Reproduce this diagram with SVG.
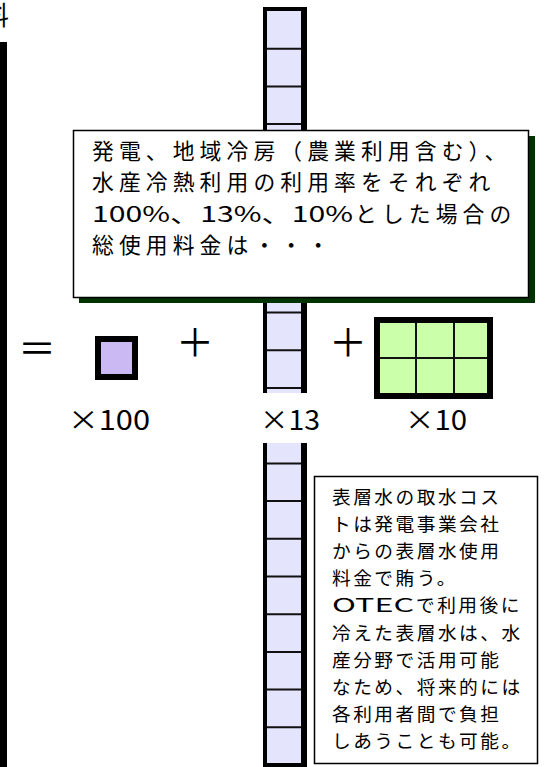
<svg xmlns="http://www.w3.org/2000/svg" width="548" height="767" viewBox="0 0 548 767">
<style>
text { font-family: "Noto Sans CJK JP", "Noto Sans", sans-serif; fill: #000; }
.big { font-size: 21.8px; letter-spacing: 5.1px; }
.note { font-size: 18.7px; letter-spacing: 2.5px; }
.lbl { font-size: 27px; }
.op { font-size: 38px; text-anchor: middle; }
.tight { letter-spacing: 0; }
.cell { stroke: #111; stroke-width: 2; }
.thick { stroke: #000; }
</style>
<rect width="548" height="767" fill="#fff"/>

<g id="left-fragment">
  <text x="-17" y="25" style="font-size:26px">料</text>
  <rect x="0" y="42" width="7" height="725" fill="#000"/>
</g>

<g id="column">
  <rect x="267" y="9" width="35" height="384" fill="#E4E4FC"/>
  <rect x="267" y="443" width="35" height="324" fill="#E4E4FC"/>
  <line x1="263" y1="9" x2="307" y2="9" class="thick" stroke-width="4"/>
  <line x1="265" y1="7" x2="265" y2="393" class="thick" stroke-width="4"/>
  <line x1="304" y1="7" x2="304" y2="393" class="thick" stroke-width="6"/>
  <line x1="265" y1="443" x2="265" y2="767" class="thick" stroke-width="4"/>
  <line x1="304" y1="443" x2="304" y2="767" class="thick" stroke-width="6"/>
  <line x1="263" y1="765" x2="307" y2="765" class="thick" stroke-width="4"/>
  <g class="cell">
    <line x1="267" y1="48.7" x2="301" y2="48.7"/>
    <line x1="267" y1="86.4" x2="301" y2="86.4"/>
    <line x1="267" y1="124.1" x2="301" y2="124.1"/>
    <line x1="267" y1="161.8" x2="301" y2="161.8"/>
    <line x1="267" y1="199.5" x2="301" y2="199.5"/>
    <line x1="267" y1="237.2" x2="301" y2="237.2"/>
    <line x1="267" y1="274.9" x2="301" y2="274.9"/>
    <line x1="267" y1="312.6" x2="301" y2="312.6"/>
    <line x1="267" y1="350.3" x2="301" y2="350.3"/>
    <line x1="267" y1="388" x2="301" y2="388"/>
    <line x1="267" y1="463.4" x2="301" y2="463.4"/>
    <line x1="267" y1="501.1" x2="301" y2="501.1"/>
    <line x1="267" y1="538.8" x2="301" y2="538.8"/>
    <line x1="267" y1="576.5" x2="301" y2="576.5"/>
    <line x1="267" y1="614.2" x2="301" y2="614.2"/>
    <line x1="267" y1="651.9" x2="301" y2="651.9"/>
    <line x1="267" y1="689.6" x2="301" y2="689.6"/>
    <line x1="267" y1="727.3" x2="301" y2="727.3"/>
  </g>
</g>

<g id="callout">
  <rect x="79" y="136" width="456" height="167" fill="#003300"/>
  <rect x="73.5" y="130.5" width="455" height="167" fill="#fff" stroke="#000" stroke-width="1.5"/>
  <text class="big" x="92" y="158.5">発電、地域冷房（農業利用含む）、</text>
  <text class="big" x="92" y="190">水産冷熱利用の利用率をそれぞれ</text>
  <text class="big" y="221.5"><tspan class="tight" x="92" textLength="261" lengthAdjust="spacingAndGlyphs">100%、13%、10%</tspan><tspan x="355">とした場合の</tspan></text>
  <text class="big" x="92" y="253">総使用料金は・・・</text>
</g>

<g id="equation">
  <text class="op" x="37" y="362">＝</text>
  <text class="op" x="195" y="356">＋</text>
  <text class="op" x="348" y="356">＋</text>
</g>

<g id="square">
  <rect x="98" y="339" width="37" height="38" fill="#CBB9F3" stroke="#000" stroke-width="6"/>
  <text class="lbl" x="68" y="430" textLength="82" lengthAdjust="spacingAndGlyphs">×100</text>
</g>

<g id="label13">
  <text class="lbl" x="260" y="430" textLength="60" lengthAdjust="spacingAndGlyphs">×13</text>
</g>

<g id="grid">
  <rect x="377" y="320" width="113" height="76" fill="#CCFFAA" stroke="#000" stroke-width="6"/>
  <g class="cell">
    <line x1="416" y1="323" x2="416" y2="393"/>
    <line x1="454" y1="323" x2="454" y2="393"/>
    <line x1="380" y1="358" x2="487" y2="358"/>
  </g>
  <text class="lbl" x="405" y="430" textLength="62" lengthAdjust="spacingAndGlyphs">×10</text>
</g>

<g id="note">
  <rect x="314.5" y="476.5" width="223" height="287" fill="#fff" stroke="#000" stroke-width="1.5"/>
  <text class="note" x="332" y="503.5">表層水の取水コス</text>
  <text class="note" x="332" y="530.7">トは発電事業会社</text>
  <text class="note" x="332" y="557.9">からの表層水使用</text>
  <text class="note" x="332" y="585.1">料金で賄う。</text>
  <text class="note" y="612.3"><tspan class="tight" x="332" textLength="82" lengthAdjust="spacingAndGlyphs">OTEC</tspan><tspan x="416">で利用後に</tspan></text>
  <text class="note" x="332" y="639.5">冷えた表層水は、水</text>
  <text class="note" x="332" y="666.7">産分野で活用可能</text>
  <text class="note" x="332" y="693.9">なため、将来的には</text>
  <text class="note" x="332" y="721.1">各利用者間で負担</text>
  <text class="note" x="332" y="748.3">しあうことも可能。</text>
</g>
</svg>
